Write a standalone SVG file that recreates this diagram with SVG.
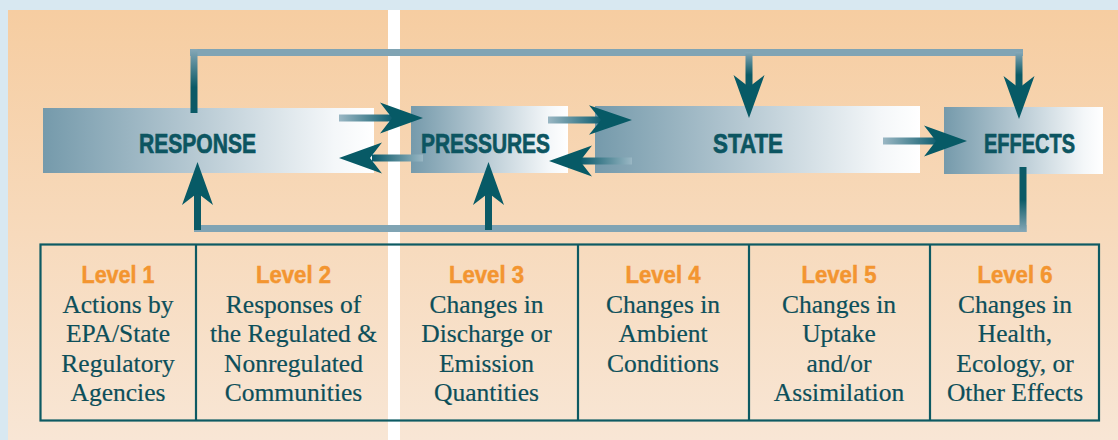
<svg xmlns="http://www.w3.org/2000/svg" xmlns:xlink="http://www.w3.org/1999/xlink" width="1118" height="440" viewBox="0 0 1118 440">
<style>
.lbl{font-family:"Liberation Sans Narrow","Liberation Sans",Arial,sans-serif;font-weight:bold;font-size:27.5px;fill:#0c5561;stroke:#0c5561;stroke-width:0.7;text-anchor:middle}
.lvl{font-family:"Liberation Sans Narrow","Liberation Sans",Arial,sans-serif;font-weight:bold;font-size:24px;fill:#f39530;stroke:#f39530;stroke-width:0.5;text-anchor:middle}
.body{font-family:"Liberation Serif","Times New Roman",serif;font-size:25.5px;fill:#0d4f5a;stroke:#0d4f5a;stroke-width:0.2;text-anchor:middle}
.tbl{fill:none;stroke:#0d5a63;stroke-width:2.2}
.head{fill:#075a66}
</style>
<defs>
<linearGradient id="bg" x1="0" y1="0" x2="0" y2="1"><stop offset="0" stop-color="#f6cda1"/><stop offset="1" stop-color="#f8e6d5"/></linearGradient>
<linearGradient id="node" x1="0" y1="0" x2="1" y2="0"><stop offset="0" stop-color="#759aab"/><stop offset="0.45" stop-color="#b5c8d2"/><stop offset="0.88" stop-color="#f4f7f9"/><stop offset="1" stop-color="#ffffff"/></linearGradient>
<linearGradient id="shR" x1="0" y1="0" x2="1" y2="0"><stop offset="0" stop-color="#9ab7c4"/><stop offset="1" stop-color="#08596a"/></linearGradient>
<linearGradient id="shL" x1="1" y1="0" x2="0" y2="0"><stop offset="0" stop-color="#9ab7c4"/><stop offset="1" stop-color="#08596a"/></linearGradient>
<linearGradient id="shD" x1="0" y1="0" x2="0" y2="1"><stop offset="0" stop-color="#86a8b7"/><stop offset="0.6" stop-color="#0b5a66"/><stop offset="1" stop-color="#0b5a66"/></linearGradient>
<linearGradient id="shU" x1="0" y1="0" x2="0" y2="1"><stop offset="0" stop-color="#0b5a66"/><stop offset="0.5" stop-color="#0b5a66"/><stop offset="1" stop-color="#86a8b7"/></linearGradient>
<path id="hd" class="head" d="M0,0 L-43,-15.5 L-31,0 L-43,15.5 Z"/>
</defs>

<rect x="0" y="0" width="1118" height="440" fill="#d8e8f1"/>
<rect x="8" y="10" width="1110" height="430" fill="url(#bg)"/>
<rect x="388" y="10" width="12" height="430" fill="#ffffff"/>

<g id="node-response">
<rect x="43" y="108" width="331" height="65" fill="url(#node)"/>
<text class="lbl" x="197.5" y="153" textLength="117" lengthAdjust="spacingAndGlyphs">RESPONSE</text>
</g>
<g id="node-pressures">
<rect x="411" y="106" width="157" height="67" fill="url(#node)"/>
<text class="lbl" x="485.5" y="153" textLength="129" lengthAdjust="spacingAndGlyphs">PRESSURES</text>
</g>
<g id="node-state">
<rect x="595" y="106" width="325" height="67" fill="url(#node)"/>
<text class="lbl" x="748" y="153" textLength="70" lengthAdjust="spacingAndGlyphs">STATE</text>
</g>
<g id="node-effects">
<rect x="944" y="107" width="159" height="67" fill="url(#node)"/>
<text class="lbl" x="1029.5" y="153" textLength="91" lengthAdjust="spacingAndGlyphs">EFFECTS</text>
</g>

<g id="connectors">
<rect x="190" y="49" width="833" height="7" fill="#80a4b4"/>
<rect x="190.5" y="49" width="7" height="64" fill="url(#shD)"/>
<rect x="745.5" y="52" width="7" height="38" fill="url(#shD)"/>
<use href="#hd" xlink:href="#hd" transform="translate(749,118) rotate(90)"/>
<rect x="1015.5" y="52" width="7" height="38" fill="url(#shD)"/>
<use href="#hd" xlink:href="#hd" transform="translate(1019,119) rotate(90)"/>
<rect x="194" y="225" width="832.5" height="7" fill="#80a4b4"/>
<rect x="1019.5" y="167" width="7" height="65" fill="url(#shU)"/>
<rect x="194" y="190" width="7" height="40" fill="#0b5a66"/>
<use href="#hd" xlink:href="#hd" transform="translate(197.5,162) rotate(-90)"/>
<rect x="485" y="190" width="7" height="40" fill="#0b5a66"/>
<use href="#hd" xlink:href="#hd" transform="translate(488.5,162) rotate(-90)"/>
<rect x="339" y="114.5" width="56" height="7" fill="url(#shR)"/>
<use href="#hd" xlink:href="#hd" transform="translate(423,118)"/>
<rect x="372" y="154.5" width="51" height="7" fill="url(#shL)"/>
<use href="#hd" xlink:href="#hd" transform="translate(339,158) rotate(180)"/>
<rect x="548" y="116.5" width="56" height="7" fill="url(#shR)"/>
<use href="#hd" xlink:href="#hd" transform="translate(632,120) scale(1,0.95)"/>
<rect x="580" y="157.5" width="52" height="7" fill="url(#shL)"/>
<use href="#hd" xlink:href="#hd" transform="translate(549,161) rotate(180)"/>
<rect x="883" y="137.5" width="57" height="7" fill="url(#shR)"/>
<use href="#hd" xlink:href="#hd" transform="translate(967,141)"/>
</g>

<g id="table">
<rect class="tbl" x="40.5" y="244.5" width="1058.5" height="176"/>
<line class="tbl" x1="196" y1="244.5" x2="196" y2="420.5"/>
<line class="tbl" x1="578" y1="244.5" x2="578" y2="420.5"/>
<line class="tbl" x1="749" y1="244.5" x2="749" y2="420.5"/>
<line class="tbl" x1="930" y1="244.5" x2="930" y2="420.5"/>
</g>

<g id="level-1">
<text class="lvl" x="118" y="283" textLength="73" lengthAdjust="spacingAndGlyphs">Level 1</text>
<text class="body" x="118" y="313">Actions by</text>
<text class="body" x="118" y="342">EPA/State</text>
<text class="body" x="118" y="372">Regulatory</text>
<text class="body" x="118" y="401">Agencies</text>
</g>
<g id="level-2">
<text class="lvl" x="293.5" y="283" textLength="75" lengthAdjust="spacingAndGlyphs">Level 2</text>
<text class="body" x="293.5" y="313">Responses of</text>
<text class="body" x="293.5" y="342">the Regulated &amp;</text>
<text class="body" x="293.5" y="372">Nonregulated</text>
<text class="body" x="293.5" y="401">Communities</text>
</g>
<g id="level-3">
<text class="lvl" x="486.5" y="283" textLength="75" lengthAdjust="spacingAndGlyphs">Level 3</text>
<text class="body" x="486.5" y="313">Changes in</text>
<text class="body" x="486.5" y="342">Discharge or</text>
<text class="body" x="486.5" y="372">Emission</text>
<text class="body" x="486.5" y="401">Quantities</text>
</g>
<g id="level-4">
<text class="lvl" x="663" y="283" textLength="75" lengthAdjust="spacingAndGlyphs">Level 4</text>
<text class="body" x="663" y="313">Changes in</text>
<text class="body" x="663" y="342">Ambient</text>
<text class="body" x="663" y="372">Conditions</text>
</g>
<g id="level-5">
<text class="lvl" x="839" y="283" textLength="75" lengthAdjust="spacingAndGlyphs">Level 5</text>
<text class="body" x="839" y="313">Changes in</text>
<text class="body" x="839" y="342">Uptake</text>
<text class="body" x="839" y="372">and/or</text>
<text class="body" x="839" y="401">Assimilation</text>
</g>
<g id="level-6">
<text class="lvl" x="1015" y="283" textLength="75" lengthAdjust="spacingAndGlyphs">Level 6</text>
<text class="body" x="1015" y="313">Changes in</text>
<text class="body" x="1015" y="342">Health,</text>
<text class="body" x="1015" y="372">Ecology, or</text>
<text class="body" x="1015" y="401">Other Effects</text>
</g>
</svg>
